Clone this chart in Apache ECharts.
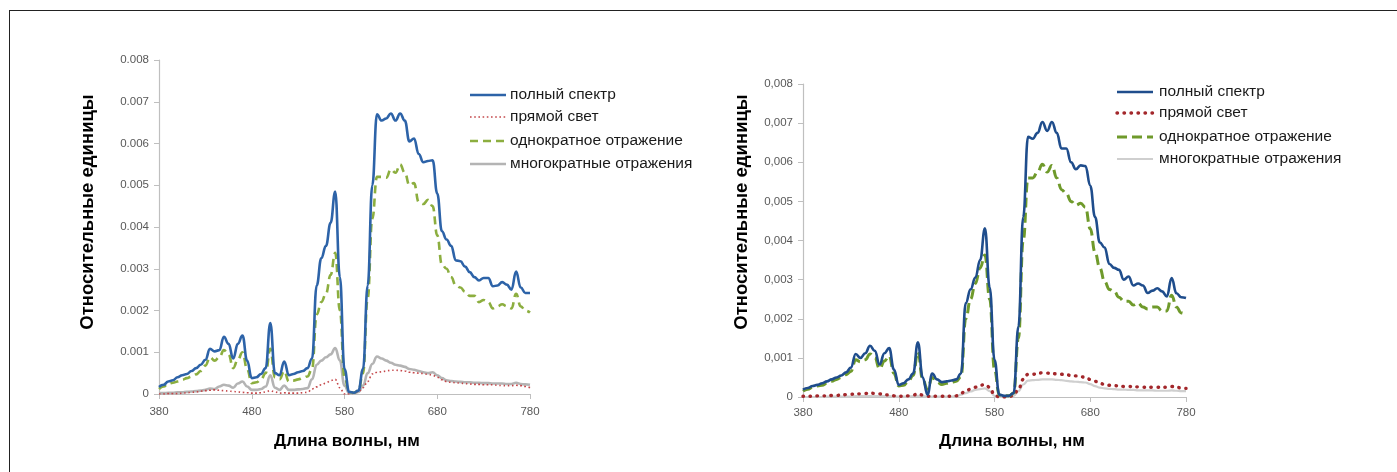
<!DOCTYPE html>
<html>
<head>
<meta charset="utf-8">
<script src="https://cdn.jsdelivr.net/npm/echarts@6/dist/echarts.min.js"></script>
<style>
  html, body { margin: 0; padding: 0; background: #fff; overflow: hidden; }
  #page { position: relative; width: 1397px; height: 472px; overflow: hidden; background: #fff; }
  #frame { position: absolute; left: 9px; top: 10px; width: 1420px; height: 500px; border: 1.5px solid #222; box-sizing: border-box; }
  #chartA { position: absolute; left: 0; top: 0; width: 700px; height: 472px; }
  #chartB { position: absolute; left: 700px; top: 0; width: 697px; height: 472px; }
</style>
</head>
<body>
<div id="page">
  <div id="frame"></div>
  <div id="chartA"></div>
  <div id="chartB"></div>
</div>
<script>
// Wavelength grid, nm
const wavelengths = [
  380, 385, 390, 395, 400, 405, 410, 415, 420, 425,
  430, 435, 440, 445, 450, 455, 460, 465, 470, 475,
  480, 485, 490, 495, 500, 505, 510, 515, 520, 525,
  530, 535, 540, 545, 550, 555, 560, 565, 570, 575,
  580, 585, 590, 595, 600, 605, 610, 615, 620, 625,
  630, 635, 640, 645, 650, 655, 660, 665, 670, 675,
  680, 685, 690, 695, 700, 705, 710, 715, 720, 725,
  730, 735, 740, 745, 750, 755, 760, 765, 770, 775,
  780
];

// Series names, in legend order
const seriesNames = ['полный спектр', 'прямой свет', 'однократное отражение', 'многократные отражения'];

// Axis labels (values are stored in thousandths of a relative unit)
const xTicks = [380, 480, 580, 680, 780];
const yLabelsA = ['0', '0.001', '0.002', '0.003', '0.004', '0.005', '0.006', '0.007', '0.008'];
const yLabelsB = ['0', '0,001', '0,002', '0,003', '0,004', '0,005', '0,006', '0,007', '0,008'];
const xTitle = 'Длина волны, нм';
const yTitle = 'Относительные единицы';

// ---- Left panel, ×0.001 ----
const totalA = [
  0.17, 0.22, 0.30, 0.33, 0.40, 0.45, 0.48, 0.55, 0.62, 0.70,
  0.82, 1.08, 1.02, 1.05, 1.37, 1.20, 0.85, 1.20, 1.40, 0.80,
  0.38, 0.40, 0.48, 0.62, 1.70, 0.50, 0.45, 0.78, 0.45, 0.48,
  0.52, 0.55, 0.62, 0.85, 2.60, 3.25, 3.55, 4.10, 4.85, 2.80,
  0.60, 0.05, 0.03, 0.08, 0.60, 2.60, 5.00, 6.70, 6.55, 6.60,
  6.72, 6.55, 6.72, 6.55, 6.05, 6.12, 5.75, 5.55, 5.58, 5.60,
  4.80, 3.90, 3.70, 3.55, 3.20, 3.18, 3.05, 2.92, 2.80, 2.72,
  2.78, 2.78, 2.58, 2.60, 2.68, 2.62, 2.50, 2.93, 2.55, 2.42,
  2.42
];
const directA = [
  0.00, 0.00, 0.01, 0.01, 0.01, 0.02, 0.03, 0.04, 0.05, 0.07,
  0.08, 0.09, 0.10, 0.09, 0.08, 0.07, 0.06, 0.05, 0.04, 0.03,
  0.02, 0.02, 0.03, 0.05, 0.08, 0.05, 0.02, 0.03, 0.02, 0.02,
  0.02, 0.03, 0.04, 0.12, 0.17, 0.22, 0.26, 0.32, 0.35, 0.15,
  0.00, 0.00, 0.02, 0.05, 0.15, 0.30, 0.48, 0.52, 0.53, 0.55,
  0.57, 0.57, 0.56, 0.55, 0.52, 0.51, 0.50, 0.49, 0.47, 0.45,
  0.40, 0.34, 0.30, 0.28, 0.27, 0.26, 0.25, 0.24, 0.23, 0.23,
  0.22, 0.22, 0.22, 0.21, 0.20, 0.20, 0.20, 0.21, 0.20, 0.18,
  0.15
];
const singleA = [
  0.12, 0.18, 0.25, 0.27, 0.30, 0.34, 0.38, 0.42, 0.47, 0.55,
  0.68, 0.88, 0.80, 0.88, 1.05, 0.95, 0.62, 0.82, 1.00, 0.60,
  0.26, 0.28, 0.35, 0.50, 1.08, 0.40, 0.35, 0.55, 0.30, 0.32,
  0.35, 0.38, 0.42, 0.60, 1.90, 2.20, 2.40, 2.85, 3.38, 2.00,
  0.40, 0.05, 0.03, 0.08, 0.50, 2.30, 4.20, 5.20, 5.20, 5.18,
  5.38, 5.30, 5.50, 5.30, 5.00, 5.05, 4.60, 4.55, 4.65, 4.50,
  3.80, 3.10, 3.00, 2.80, 2.60, 2.55, 2.45, 2.35, 2.35, 2.20,
  2.25, 2.20, 2.05, 2.10, 2.15, 2.10, 2.05, 2.40, 2.10, 2.00,
  1.95
];
const multiA = [
  0.02, 0.02, 0.03, 0.03, 0.04, 0.04, 0.05, 0.06, 0.07, 0.08,
  0.10, 0.13, 0.12, 0.18, 0.22, 0.20, 0.15, 0.25, 0.30, 0.18,
  0.10, 0.10, 0.12, 0.18, 0.45, 0.15, 0.10, 0.20, 0.10, 0.10,
  0.11, 0.12, 0.14, 0.35, 0.70, 0.80, 0.88, 0.95, 1.10, 0.80,
  0.20, 0.02, 0.02, 0.05, 0.20, 0.50, 0.72, 0.90, 0.85, 0.80,
  0.75, 0.70, 0.68, 0.65, 0.60, 0.58, 0.55, 0.52, 0.50, 0.52,
  0.45, 0.38, 0.33, 0.31, 0.30, 0.29, 0.28, 0.28, 0.27, 0.27,
  0.26, 0.26, 0.25, 0.25, 0.25, 0.24, 0.24, 0.27, 0.24, 0.23,
  0.22
];

// ---- Right panel, ×0.001 ----
const totalB = [
  0.19, 0.23, 0.28, 0.31, 0.35, 0.40, 0.45, 0.50, 0.55, 0.63,
  0.75, 1.10, 1.00, 1.12, 1.31, 1.18, 0.83, 1.12, 1.25, 0.70,
  0.31, 0.35, 0.45, 0.60, 1.40, 0.50, 0.06, 0.60, 0.45, 0.38,
  0.40, 0.42, 0.45, 0.60, 2.40, 2.75, 3.05, 3.50, 4.31, 2.80,
  0.95, 0.06, 0.03, 0.03, 0.10, 1.80, 4.60, 6.65, 6.60, 6.75,
  7.03, 6.80, 7.03, 6.75, 6.35, 6.35, 6.00, 5.82, 5.92, 5.90,
  5.40, 4.60, 3.95, 3.82, 3.40, 3.30, 3.25, 3.00, 3.08, 2.85,
  2.90, 2.85, 2.66, 2.72, 2.78, 2.70, 2.57, 3.04, 2.65, 2.55,
  2.53
];
const directB = [
  0.02, 0.02, 0.02, 0.03, 0.03, 0.03, 0.04, 0.04, 0.05, 0.06,
  0.07, 0.08, 0.08, 0.09, 0.10, 0.09, 0.08, 0.06, 0.05, 0.03,
  0.02, 0.02, 0.03, 0.05, 0.08, 0.05, 0.02, 0.02, 0.02, 0.02,
  0.02, 0.02, 0.03, 0.10, 0.15, 0.20, 0.25, 0.30, 0.32, 0.25,
  0.05, 0.00, 0.00, 0.00, 0.05, 0.20, 0.45, 0.58, 0.58, 0.60,
  0.62, 0.61, 0.60, 0.59, 0.58, 0.57, 0.55, 0.54, 0.52, 0.50,
  0.45, 0.40, 0.35, 0.32, 0.30, 0.29, 0.28, 0.27, 0.27, 0.26,
  0.26, 0.25, 0.25, 0.25, 0.25, 0.25, 0.25, 0.27, 0.25, 0.23,
  0.22
];
const singleB = [
  0.15, 0.20, 0.25, 0.28, 0.30, 0.35, 0.40, 0.45, 0.50, 0.57,
  0.65, 0.95, 0.90, 0.95, 1.10, 1.00, 0.72, 0.92, 1.05, 0.60,
  0.28, 0.30, 0.40, 0.55, 1.15, 0.45, 0.20, 0.50, 0.38, 0.32,
  0.35, 0.38, 0.40, 0.52, 2.00, 2.50, 2.90, 3.30, 3.63, 2.50,
  0.70, 0.05, 0.03, 0.03, 0.10, 1.50, 4.00, 5.60, 5.60, 5.75,
  5.95, 5.75, 5.92, 5.60, 5.30, 5.20, 5.00, 4.90, 4.95, 4.85,
  4.30, 3.70, 3.30, 2.95, 2.75, 2.70, 2.55, 2.45, 2.45, 2.35,
  2.40, 2.30, 2.25, 2.30, 2.30, 2.20, 2.20, 2.60, 2.30, 2.15,
  2.10
];
const multiB = [
  0.00, 0.00, 0.00, 0.00, 0.00, 0.01, 0.01, 0.01, 0.01, 0.01,
  0.01, 0.02, 0.02, 0.02, 0.02, 0.02, 0.02, 0.02, 0.02, 0.01,
  0.01, 0.01, 0.01, 0.02, 0.03, 0.02, 0.01, 0.01, 0.01, 0.01,
  0.01, 0.01, 0.02, 0.06, 0.10, 0.14, 0.18, 0.20, 0.22, 0.15,
  0.03, 0.00, 0.00, 0.00, 0.03, 0.15, 0.32, 0.42, 0.43, 0.44,
  0.45, 0.45, 0.45, 0.44, 0.43, 0.41, 0.40, 0.39, 0.38, 0.37,
  0.33, 0.28, 0.24, 0.22, 0.21, 0.20, 0.19, 0.19, 0.18, 0.18,
  0.17, 0.17, 0.17, 0.17, 0.16, 0.16, 0.16, 0.17, 0.16, 0.15,
  0.15
];

const SANS = 'Liberation Sans, Arial, Helvetica, sans-serif';

function pairs(values) {
  return wavelengths.map((w, i) => [w, values[i]]);
}

function lineSeries(name, values, style, z) {
  return {
    name: name,
    type: 'line',
    data: pairs(values),
    symbol: 'none',
    smooth: 0.45,
    smoothMonotone: 'x',
    z: z,
    lineStyle: style,
    itemStyle: { color: style.color },
    emphasis: { disabled: true }
  };
}

// Legend drawn as sample strokes next to the series names
function legendGraphics(lg, styles) {
  const order = [styles.total, styles.direct, styles.single, styles.multi];
  const els = [];
  order.forEach((st, i) => {
    const y = lg.rows[i];
    els.push({
      type: 'line',
      silent: true,
      shape: { x1: lg.x1, y1: y, x2: lg.x2, y2: y },
      style: {
        stroke: st.color,
        lineWidth: st.width,
        lineDash: Array.isArray(st.type) ? st.type : null,
        lineCap: st.cap || 'butt'
      }
    });
    els.push({
      type: 'text',
      silent: true,
      x: lg.textX,
      y: y,
      style: {
        text: seriesNames[i],
        font: '15.5px ' + SANS,
        fill: '#1a1a1a',
        textVerticalAlign: 'middle',
        verticalAlign: 'middle'
      }
    });
  });
  return els;
}

function titleGraphics(t) {
  return [
    {
      type: 'text', silent: true,
      x: t.xTitleX, y: t.xTitleY,
      style: { text: xTitle, font: 'bold 17px ' + SANS, fill: '#000', align: 'center', verticalAlign: 'middle', textAlign: 'center', textVerticalAlign: 'middle' }
    },
    {
      type: 'text', silent: true,
      x: t.yTitleX, y: t.yTitleY, rotation: Math.PI / 2,
      style: { text: yTitle, font: 'bold 18.5px ' + SANS, fill: '#000', align: 'center', verticalAlign: 'middle', textAlign: 'center', textVerticalAlign: 'middle' }
    }
  ];
}

function buildOption(cfg) {
  const tickFont = { fontFamily: SANS, fontSize: 11.5, color: '#595959' };
  return {
    animation: false,
    backgroundColor: 'transparent',
    grid: cfg.grid,
    xAxis: {
      type: 'value',
      min: xTicks[0],
      max: xTicks[xTicks.length - 1],
      interval: 100,
      axisLine: { lineStyle: { color: '#bfbfbf', width: 1.2 } },
      axisTick: { show: true, length: 5, lineStyle: { color: '#bfbfbf' } },
      axisLabel: Object.assign({ margin: cfg.xLabelMargin }, tickFont),
      splitLine: { show: false }
    },
    yAxis: {
      type: 'value',
      min: 0,
      max: 8,
      interval: 1,
      axisLine: { show: true, lineStyle: { color: '#bfbfbf', width: 1.2 } },
      axisTick: { show: true, length: 5, lineStyle: { color: '#bfbfbf' } },
      axisLabel: Object.assign({ margin: 10, formatter: (v) => cfg.yLabels[Math.round(v)] }, tickFont),
      splitLine: { show: false }
    },
    graphic: legendGraphics(cfg.legend, cfg.styles).concat(titleGraphics(cfg.titles)),
    series: [
      lineSeries(seriesNames[3], cfg.multi, cfg.styles.multi, 1),
      lineSeries(seriesNames[1], cfg.direct, cfg.styles.direct, 2),
      lineSeries(seriesNames[2], cfg.single, cfg.styles.single, 3),
      lineSeries(seriesNames[0], cfg.total, cfg.styles.total, 4)
    ]
  };
}

const chartA = echarts.init(document.getElementById('chartA'), null, { renderer: 'canvas' });
chartA.setOption(buildOption({
  grid: { left: 159, top: 60, width: 371, height: 334 },
  legend: { x1: 470, x2: 506, textX: 510, rows: [95, 117, 141, 164] },
  titles: { xTitleX: 347, xTitleY: 441, yTitleX: 88, yTitleY: 212 },
  xLabelMargin: 12,
  yLabels: yLabelsA,
  total: totalA, direct: directA, single: singleA, multi: multiA,
  styles: {
    total: { color: '#2d63a8', width: 2.6 },
    direct: { color: '#c4474a', width: 1.6, type: [1.6, 2.6] },
    single: { color: '#8cae3f', width: 2.6, type: [8, 5] },
    multi: { color: '#b4b4b4', width: 2.6 }
  }
}));

const chartB = echarts.init(document.getElementById('chartB'), null, { renderer: 'canvas' });
chartB.setOption(buildOption({
  grid: { left: 103, top: 84, width: 383, height: 313 },
  legend: { x1: 417, x2: 453, textX: 459, rows: [92, 113, 137, 159] },
  titles: { xTitleX: 312, xTitleY: 441, yTitleX: 42, yTitleY: 212 },
  xLabelMargin: 10,
  yLabels: yLabelsB,
  total: totalB, direct: directB, single: singleB, multi: multiB,
  styles: {
    total: { color: '#1f4d8c', width: 2.6 },
    direct: { color: '#a3272b', width: 3.4, type: [0.5, 6.5], cap: 'round' },
    single: { color: '#6f9a2b', width: 3, type: [10, 5] },
    multi: { color: '#cfcfcf', width: 2.2 }
  }
}));
</script>
</body>
</html>
